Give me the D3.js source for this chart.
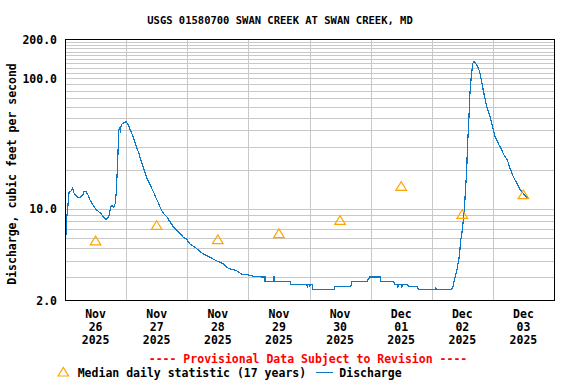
<!DOCTYPE html>
<html><head><meta charset="utf-8">
<script src="https://cdn.jsdelivr.net/npm/d3@7"></script>
<style>
body{margin:0;background:#fff}
text{font-family:"DejaVu Sans Mono","Liberation Mono",monospace;font-weight:bold;fill:#000}
</style>
</head><body>
<svg id="chart" width="576" height="384"></svg>
<script>
const chartTitle = "USGS 01580700 SWAN CREEK AT SWAN CREEK, MD";
const yAxisTitle = "Discharge, cubic feet per second";
const provisionalNote = "---- Provisional Data Subject to Revision ----";
const legendMedian = "Median daily statistic (17 years)";
const legendDischarge = "Discharge";

const dayStart = "2025-11-26";
const dayEnd = "2025-12-04";
const dayDates = ["2025-11-26","2025-11-27","2025-11-28","2025-11-29","2025-11-30","2025-12-01","2025-12-02","2025-12-03"];
const dayLabels = [["Nov","26","2025"],["Nov","27","2025"],["Nov","28","2025"],["Nov","29","2025"],["Nov","30","2025"],["Dec","01","2025"],["Dec","02","2025"],["Dec","03","2025"]];

const medianValues = [5.71, 7.5, 5.84, 6.49, 8.2, 14.95, 9.12, 12.9];

const yTickValues = [2, 10, 100, 200];
const yTickLabels = ["2.0", "10.0", "100.0", "200.0"];
const yGridValues = [3,4,5,6,7,8,9,10,20,30,40,50,60,70,80,90,100,110,120,130,140,150,160,170,180,190];

// hours after 2025-11-26 00:00
const dischargeHours = [
 0.25,0.6,1.06,1.57,2.36,3.02,3.53,4.04,5.10,6.01,6.95,7.46,8.25,9.03,9.82,10.60,11.39,12.17,13.23,14.25,
 15.04,15.82,16.49,17.16,18.06,18.45,19.12,19.75,20.14,20.53,20.81,21.08,21.32,21.71,22.11,22.66,23.44,23.95,24.46,25.01,
 25.64,26.31,26.97,27.60,28.27,28.94,29.57,30.23,30.90,31.53,32.20,32.86,33.49,34.16,34.83,35.46,36.12,36.79,37.42,38.60,
 39.93,41.23,42.52,43.86,45.15,46.45,47.78,49.08,50.77,52.34,54.30,56.93,58.90,62.15,64.12,67.41,69.38,71.97,74.60,77.86,
 78.5,78.53,81.86,81.9,82.3,82.45,88.34,88.74,94.9,95.14,95.4,95.9,96.0,96.4,97.0,97.37,105.6,106.0,112.2,112.6,
 118.6,118.7,119.3,119.5,123.7,124.0,128.9,129.6,130.5,130.7,131.0,132.1,132.3,132.6,134.5,134.8,138.4,138.7,145.3,145.5,
 145.8,151.8,152.3,152.7,153.2,153.8,154.3,154.8,155.4,155.9,156.4,156.9,157.2,157.7,157.96,158.5,159.0,159.5,160.1,160.6,
 161.4,162.0,162.7,163.2,163.7,164.2,165.0,165.8,166.9,167.9,168.9,170.1,171.1,172.4,173.7,174.5,176.0,177.4,178.6,179.9,
 181.0,182.3
];
const dischargeValues = [
 5.66,8.20,10.09,13.28,13.69,14.36,13.21,12.75,12.25,12.25,12.75,13.62,13.52,12.75,11.68,11.02,10.37,9.91,9.50,9.12,
 8.70,8.35,8.35,8.70,10.37,10.69,10.26,11.02,13.52,19.83,26.62,40.15,41.37,39.66,43.85,45.19,45.67,46.81,45.19,43.09,
 40.15,37.41,34.69,31.76,29.07,26.90,24.37,22.31,20.43,18.71,17.13,16.13,15.21,14.18,13.38,12.38,11.68,11.02,10.19,9.23,
 8.70,7.96,7.29,6.88,6.49,6.05,5.84,5.37,5.12,4.83,4.50,4.25,4.05,3.78,3.50,3.35,3.16,3.11,3.02,3.00,
 3.00,2.76,2.76,3.00,3.00,2.76,2.76,2.64,2.64,2.53,2.64,2.64,2.53,2.64,2.64,2.40,2.40,2.53,2.53,2.76,
 2.76,2.88,2.88,3.00,3.00,2.76,2.76,2.64,2.64,2.53,2.64,2.64,2.53,2.64,2.64,2.53,2.53,2.40,2.40,2.53,
 2.40,2.40,2.53,2.76,3.02,3.30,3.82,4.29,5.77,6.67,8.20,10.37,13.93,18.71,28.21,45.19,76.7,102.8,130.3,134.0,
 128.7,122.7,114.3,102.8,91.5,81.3,68.2,58.9,50.8,42.6,35.7,31.76,29.07,25.83,23.65,21.01,17.62,15.68,14.10,13.14,
 12.38,11.82
];

const svg = d3.select("#chart");
const L = 65, R = 554, T = 39, B = 300;
const parseDay = d3.utcParse("%Y-%m-%d");
const t0 = parseDay(dayStart);
const x = d3.scaleUtc().domain([t0, parseDay(dayEnd)]).range([L, R]);
const y = d3.scaleLog().domain([2, 200]).range([B, T]);
const px = v => Math.round(v) + 0.5;

// horizontal grid
svg.append("g").selectAll("line").data(yGridValues).join("line")
  .attr("x1", L).attr("x2", R)
  .attr("y1", d => px(y(d))).attr("y2", d => px(y(d)))
  .attr("stroke", "#c8c8c8").attr("stroke-width", 1).attr("shape-rendering", "crispEdges");

// vertical grid at day boundaries
const dayBounds = dayDates.slice(1).map(parseDay);
svg.append("g").selectAll("line").data(dayBounds).join("line")
  .attr("x1", d => px(x(d))).attr("x2", d => px(x(d)))
  .attr("y1", T).attr("y2", B)
  .attr("stroke", "#c8c8c8").attr("stroke-width", 1).attr("shape-rendering", "crispEdges");

// discharge line
const series = dischargeHours.map((h, i) => ({t: new Date(+t0 + h * 3600e3), v: dischargeValues[i]}));
svg.append("path").datum(series)
  .attr("d", d3.line().x(d => x(d.t)).y(d => y(d.v)))
  .attr("fill", "none").attr("stroke", "#0a78c8").attr("stroke-width", 1.2)
  .attr("shape-rendering", "crispEdges");

// median triangles at noon
const tri = (cx, cy) => `M${cx-5.3},${cy+4.3}L${cx},${cy-4.3}L${cx+5.3},${cy+4.3}Z`;
svg.append("g").selectAll("path").data(dayDates).join("path")
  .attr("d", (d, i) => tri(x(new Date(+parseDay(d) + 12 * 3600e3)), y(medianValues[i])))
  .attr("fill", "none").attr("stroke", "#ffa500").attr("stroke-width", 1.2);

// frame
svg.append("rect").attr("x", L + 0.5).attr("y", T + 0.5).attr("width", R - L).attr("height", B - T)
  .attr("fill", "none").attr("stroke", "#000").attr("stroke-width", 1).attr("shape-rendering", "crispEdges");

// y tick labels
svg.append("g").selectAll("text").data(yTickValues).join("text")
  .attr("x", 57).attr("y", d => y(d) + 4.5).attr("text-anchor", "end")
  .style("font-size", "11.5px").text((d, i) => yTickLabels[i]);

// x labels
const xl = svg.append("g").selectAll("text").data(dayDates).join("text")
  .attr("text-anchor", "middle").style("font-size", "11.5px")
  .attr("transform", d => `translate(${x(new Date(+parseDay(d) + 12 * 3600e3))},0)`);
xl.selectAll("tspan").data((d, i) => dayLabels[i].map((s, k) => ({s, k}))).join("tspan")
  .attr("x", 0).attr("y", d => 318 + d.k * 13).text(d => d.s);

// title
svg.append("text").attr("x", 280).attr("y", 24).attr("text-anchor", "middle")
  .style("font-size", "10.5px").text(chartTitle);

// y axis title
svg.append("text").attr("transform", "translate(15.5,174) rotate(-90)").attr("text-anchor", "middle")
  .style("font-size", "11.5px").text(yAxisTitle);

// provisional note
svg.append("text").attr("x", 308).attr("y", 362.5).attr("text-anchor", "middle")
  .style("font-size", "11.5px").style("fill", "#ff0000").text(provisionalNote);

// legend
svg.append("path").attr("d", tri(63.3, 371.7)).attr("fill", "none").attr("stroke", "#ffa500").attr("stroke-width", 1.2);
svg.append("text").attr("x", 77.7).attr("y", 377).style("font-size", "11.5px").text(legendMedian);
svg.append("line").attr("x1", 316).attr("x2", 333).attr("y1", 372.5).attr("y2", 372.5)
  .attr("stroke", "#0a78c8").attr("stroke-width", 1);
svg.append("text").attr("x", 339.3).attr("y", 377).style("font-size", "11.5px").text(legendDischarge);
</script>
</body></html>
